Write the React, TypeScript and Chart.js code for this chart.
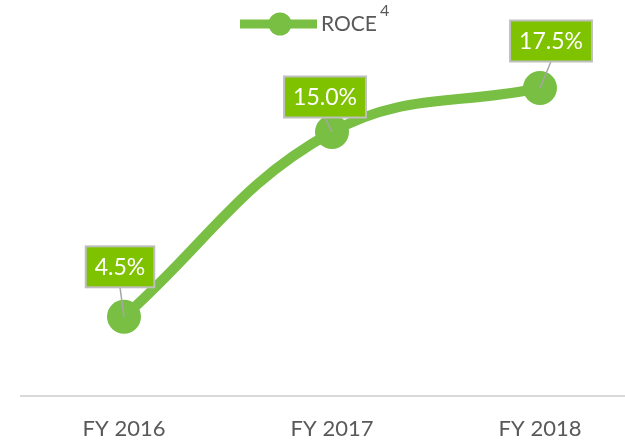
import React, { useEffect, useRef } from "react";
import { Chart, registerables } from "chart.js";

Chart.register(...registerables);

const categories = ["FY 2016", "FY 2017", "FY 2018"];
const roceValues = [4.5, 15.0, 17.5];
const seriesName = "ROCE";
const seriesSuperscript = "4";
const yMin = 0;
const yMax = 20;

const GREEN_LINE = "#78BF44";
const GREEN_BOX = "#7FC300";
const GRAY_TEXT = "#595959";
const FONT = "Lato";

// label box offsets relative to point (style)
const labelShift = [
  { dx: -4, dy: -50 },
  { dx: -7, dy: -35 },
  { dx: 11, dy: -47 },
];

const customPlugin = {
  id: "customDecor",
  beforeDatasetsDraw(chart: any) {
    const ctx = chart.ctx;
    const y = chart.scales.y.getPixelForValue(0);
    ctx.save();
    ctx.strokeStyle = "#D9D9D9";
    ctx.lineWidth = 2;
    ctx.beginPath();
    ctx.moveTo(20, y);
    ctx.lineTo(chart.width, y);
    ctx.stroke();
    ctx.restore();
  },
  afterDatasetsDraw(chart: any) {
    const ctx = chart.ctx;
    const meta = chart.getDatasetMeta(0);
    ctx.save();
    ctx.font = `23px ${FONT}`;
    meta.data.forEach((pt: any, i: number) => {
      const v = chart.data.datasets[0].data[i] as number;
      const text = v.toFixed(1) + "%";
      const s = labelShift[i] || { dx: 0, dy: -45 };
      const cx = pt.x + s.dx;
      const cy = pt.y + s.dy;
      const tw = ctx.measureText(text).width;
      const w = tw + 18;
      const h = 41;
      // leader
      ctx.strokeStyle = "#A6A6A6";
      ctx.lineWidth = 1.5;
      ctx.beginPath();
      ctx.moveTo(cx, cy + h / 2);
      ctx.lineTo(pt.x, pt.y);
      ctx.stroke();
      // box
      ctx.fillStyle = GREEN_BOX;
      ctx.fillRect(cx - w / 2, cy - h / 2, w, h);
      ctx.strokeStyle = "#BFBFBF";
      ctx.lineWidth = 2;
      ctx.strokeRect(cx - w / 2, cy - h / 2, w, h);
      ctx.fillStyle = "#FFFFFF";
      ctx.textAlign = "center";
      ctx.textBaseline = "middle";
      ctx.fillText(text, cx, cy + 1);
    });
    ctx.restore();

    // legend
    ctx.save();
    const ly = 24;
    ctx.strokeStyle = GREEN_LINE;
    ctx.lineWidth = 9;
    ctx.beginPath();
    ctx.moveTo(240, ly);
    ctx.lineTo(317, ly);
    ctx.stroke();
    ctx.fillStyle = GREEN_LINE;
    ctx.beginPath();
    ctx.arc(280, ly, 11.5, 0, Math.PI * 2);
    ctx.fill();
    ctx.fillStyle = GRAY_TEXT;
    ctx.font = `21px ${FONT}`;
    ctx.textAlign = "left";
    ctx.textBaseline = "alphabetic";
    ctx.fillText(seriesName, 321, 31);
    const w = ctx.measureText(seriesName).width;
    ctx.font = `16px ${FONT}`;
    ctx.fillText(seriesSuperscript, 321 + w + 3, 16);
    ctx.restore();
  },
};

export default function App() {
  const ref = useRef<HTMLCanvasElement>(null);
  useEffect(() => {
    document.body.style.margin = "0";
    const chart = new Chart(ref.current as HTMLCanvasElement, {
      type: "line",
      data: {
        labels: categories,
        datasets: [
          {
            label: seriesName,
            data: roceValues,
            borderColor: GREEN_LINE,
            backgroundColor: GREEN_LINE,
            borderWidth: 10,
            pointRadius: 17,
            pointHoverRadius: 17,
            pointBackgroundColor: GREEN_LINE,
            pointBorderWidth: 0,
            tension: 0.4,
            fill: false,
            clip: false as any,
          },
        ],
      },
      options: {
        animation: false,
        responsive: false,
        layout: { padding: { top: 44, left: 124, right: 85, bottom: 0 } },
        plugins: { legend: { display: false }, tooltip: { enabled: false } },
        scales: {
          x: {
            offset: false,
            grid: { display: false, drawTicks: false },
            border: { display: false },
            ticks: {
              color: GRAY_TEXT,
              font: { family: FONT, size: 22 },
              padding: 20,
              maxRotation: 0,
              autoSkip: false,
            },
            afterFit(scale: any) {
              scale.height = 48;
            },
          },
          y: {
            display: false,
            min: yMin,
            max: yMax,
          },
        },
      },
      plugins: [customPlugin],
    });
    return () => chart.destroy();
  }, []);
  return <canvas ref={ref} width={625} height={444} />;
}
